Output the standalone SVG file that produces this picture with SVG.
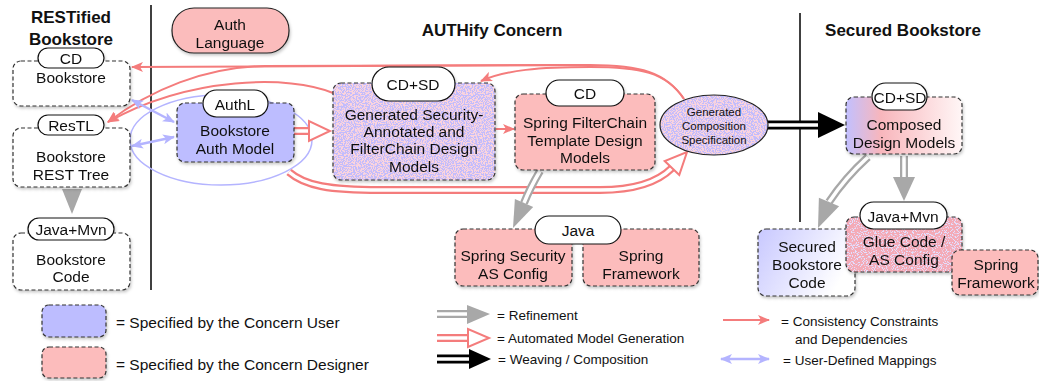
<svg xmlns="http://www.w3.org/2000/svg" width="1039" height="381" viewBox="0 0 1039 381">
<style>
.box{stroke:#333;stroke-width:1.2;stroke-dasharray:4 2.5}
.pill{fill:#fff;stroke:#111;stroke-width:1.2}
.t{font-family:"Liberation Sans",Arial,sans-serif;font-size:15.5px;fill:#111;text-anchor:middle;dominant-baseline:central}
.tt{font-weight:bold;font-size:17px}
.sm{font-size:11.5px}
.lg{text-anchor:start}
.lg13{text-anchor:start;font-size:13.5px}
.red{fill:none;stroke:#f47c7c;stroke-width:2}
.blue{fill:none;stroke:#b4b4ff;stroke-width:2.5}
.wh{fill:none;stroke:#fff}
.gray{fill:none;stroke:#a8a8a8;stroke-width:8}
.redd{fill:none;stroke:#f47c7c;stroke-width:8}
.blk{fill:none;stroke:#000;stroke-width:9}
.lav{fill:#bdbdff}
.pink{fill:#fcbcbc}
.nb{fill:#c2bcfc;filter:url(#nzP)}
.np{fill:#f4aab6;filter:url(#nzB)}
</style>
<defs>
<filter id="nzP" x="0" y="0" width="1" height="1">
<feTurbulence type="fractalNoise" baseFrequency="0.9" numOctaves="2" seed="4" result="n"/>
<feColorMatrix in="n" type="matrix" values="0 0 0 0 0.96  0 0 0 0 0.66  0 0 0 0 0.72  14 0 0 0 -6.6" result="p"/>
<feComposite in="p" in2="SourceGraphic" operator="atop"/>
</filter>
<filter id="nzB" x="0" y="0" width="1" height="1">
<feTurbulence type="fractalNoise" baseFrequency="0.9" numOctaves="2" seed="7" result="n"/>
<feColorMatrix in="n" type="matrix" values="0 0 0 0 0.76  0 0 0 0 0.74  0 0 0 0 0.99  14 0 0 0 -7.6" result="p"/>
<feComposite in="p" in2="SourceGraphic" operator="atop"/>
</filter>
<linearGradient id="gComp" x1="0" y1="0" x2="1" y2="0">
<stop offset="0" stop-color="#c2c0ff"/>
<stop offset="0.3" stop-color="#f8b6bc"/>
<stop offset="1" stop-color="#fff6f6"/>
</linearGradient>
<linearGradient id="gSec" x1="0" y1="0" x2="1" y2="0.4">
<stop offset="0" stop-color="#c8c8ff"/>
<stop offset="1" stop-color="#ffffff"/>
</linearGradient>
<filter id="sh" x="-10%" y="-10%" width="130%" height="140%">
<feDropShadow dx="1" dy="2" stdDeviation="1.5" flood-color="#000" flood-opacity="0.22"/>
</filter>
<marker id="ar" markerUnits="userSpaceOnUse" markerWidth="12" markerHeight="10" refX="11" refY="5" orient="auto" viewBox="0 0 12 10">
<path d="M0,0 L12,5 L0,10 L3,5 z" fill="#f47c7c"/>
</marker>
<marker id="ab" markerUnits="userSpaceOnUse" markerWidth="12" markerHeight="10" refX="11" refY="5" orient="auto-start-reverse" viewBox="0 0 12 10">
<path d="M0,0 L12,5 L0,10 L3,5 z" fill="#b4b4ff"/>
</marker>
</defs>

<g id="titles">
<text class="t tt" x="71" y="17">RESTified</text>
<text class="t tt" x="71" y="39">Bookstore</text>
<text class="t tt" x="492" y="30">AUTHify Concern</text>
<text class="t tt" x="903" y="30">Secured Bookstore</text>
<line x1="151" y1="5" x2="151" y2="290" stroke="#000" stroke-width="1.5"/>
<line x1="800" y1="13" x2="800" y2="222" stroke="#000" stroke-width="1.5"/>
</g>

<ellipse id="authl-scope" cx="221" cy="140" rx="91" ry="45" fill="none" stroke="#b4b4ff" stroke-width="1.5"/>

<g id="connectors">
<path class="red" d="M684,99 C666,72 640,65 590,65 L132,67" marker-end="url(#ar)"/>
<path class="red" d="M684,99 C666,72 640,67 590,67 C540,67 505,70 481,81" marker-end="url(#ar)"/>
<path class="red" d="M590,65 L265,66 C205,67 150,90 108,122" marker-end="url(#ar)"/>
<path class="red" d="M333,93 C290,75 190,76 108,122" marker-end="url(#ar)"/>
<path class="red" d="M496,129 L514,129" marker-end="url(#ar)"/>
<path class="blue" d="M132,100 L174,122" marker-start="url(#ab)" marker-end="url(#ab)"/>
<path class="blue" d="M132,146 L174,137" marker-start="url(#ab)" marker-end="url(#ab)"/>
<path class="redd" d="M294,131 L310,131"/><path class="wh" stroke-width="3.5" d="M294,131 L310,131"/>
<polygon points="309,121 309,141 330,131" fill="#fff" stroke="#f47c7c" stroke-width="2"/>
<path class="redd" d="M289,172 C305,186 330,190 380,190 L600,190 C640,190 660,180 672,168"/>
<path class="wh" stroke-width="3.5" d="M289,172 C305,186 330,190 380,190 L600,190 C640,190 660,180 672,168"/>
<polygon points="679.3,174.9 664.7,161.1 687,152" fill="#fff" stroke="#f47c7c" stroke-width="2"/>
<polygon points="62,189 82,189 72,214" fill="#a8a8a8"/>
<path class="gray" d="M540,171 Q530,188 524,203"/><path class="wh" stroke-width="3.5" d="M540,171 Q530,188 524,203"/>
<polygon points="533.2,207 514.9,199 513,228" fill="#a8a8a8"/>
<path class="gray" d="M904,156 L904,178"/><path class="wh" stroke-width="3.5" d="M904,156 L904,178"/>
<polygon points="893,177 915,177 904,201" fill="#a8a8a8"/>
<path class="gray" d="M868,157 Q845,178 829,202"/><path class="wh" stroke-width="3.5" d="M868,157 Q845,178 829,202"/>
<polygon points="839.1,206.3 818.9,197.7 818,228" fill="#a8a8a8"/>
<path class="blk" d="M768,125 L819,125"/><path class="wh" stroke-width="3.5" d="M768,125 L819,125"/>
<polygon points="818,112 818,138 845,125" fill="#000"/>
</g>

<g id="cd-bookstore" filter="url(#sh)">
<rect class="box" x="13" y="61" width="117" height="45" rx="8" fill="#fff"/>
<rect class="pill" x="38" y="48" width="66" height="20" rx="10"/>
<text class="t" x="71" y="58">CD</text>
<text class="t" x="71" y="77">Bookstore</text>
</g>
<g id="restl-tree" filter="url(#sh)">
<rect class="box" x="13" y="128" width="117" height="59" rx="8" fill="#fff"/>
<rect class="pill" x="38" y="115" width="66" height="20" rx="10"/>
<text class="t" x="71" y="125">ResTL</text>
<text class="t" x="71" y="156">Bookstore</text>
<text class="t" x="71" y="174">REST Tree</text>
</g>
<g id="bookstore-code" filter="url(#sh)">
<rect class="box" x="13" y="233" width="117" height="57" rx="8" fill="#fff"/>
<rect class="pill" x="28" y="218" width="86" height="22" rx="11"/>
<text class="t" x="71" y="229">Java+Mvn</text>
<text class="t" x="71" y="259">Bookstore</text>
<text class="t" x="71" y="276">Code</text>
</g>

<g id="auth-language" filter="url(#sh)">
<rect x="172" y="8" width="117" height="45" rx="22" fill="#fbbcbc" stroke="#222" stroke-width="1.2"/>
<text class="t" x="230" y="24">Auth</text>
<text class="t" x="230" y="42">Language</text>
</g>
<g id="authl-model" filter="url(#sh)">
<rect class="box lav" x="177" y="103" width="117" height="59" rx="8"/>
<rect class="pill" x="203" y="90" width="65" height="27" rx="13.5"/>
<text class="t" x="235" y="104">AuthL</text>
<text class="t" x="235" y="130">Bookstore</text>
<text class="t" x="235" y="148">Auth Model</text>
</g>
<g id="generated-security" filter="url(#sh)">
<rect class="nb" x="333" y="83" width="162" height="97" rx="8"/>
<rect class="box" x="333" y="83" width="162" height="97" rx="8" fill="none"/>
<rect class="pill" x="372" y="67" width="83" height="34" rx="17"/>
<text class="t" x="413" y="84">CD+SD</text>
<text class="t" x="414" y="114">Generated Security-</text>
<text class="t" x="414" y="131">Annotated and</text>
<text class="t" x="414" y="148">FilterChain Design</text>
<text class="t" x="414" y="166">Models</text>
</g>
<g id="spring-filterchain" filter="url(#sh)">
<rect class="box pink" x="515" y="94" width="140" height="76" rx="8"/>
<rect class="pill" x="546" y="80" width="78" height="26" rx="13"/>
<text class="t" x="585" y="93">CD</text>
<text class="t" x="585" y="122">Spring FilterChain</text>
<text class="t" x="585" y="140">Template Design</text>
<text class="t" x="585" y="157">Models</text>
</g>
<g id="composition-spec">
<ellipse class="nb" cx="714" cy="125" rx="54" ry="30"/>
<ellipse cx="714" cy="125" rx="54" ry="30" fill="none" stroke="#222" stroke-width="1.2"/>
<text class="t sm" x="714" y="112">Generated</text>
<text class="t sm" x="714" y="126">Composition</text>
<text class="t sm" x="714" y="140">Specification</text>
</g>
<g id="spring-security-config" filter="url(#sh)">
<rect class="box pink" x="455" y="229" width="117" height="57" rx="8"/>
<text class="t" x="513" y="255">Spring Security</text>
<text class="t" x="513" y="273">AS Config</text>
</g>
<g id="spring-framework-a" filter="url(#sh)">
<rect class="box pink" x="583" y="229" width="116" height="57" rx="8"/>
<text class="t" x="641" y="255">Spring</text>
<text class="t" x="641" y="273">Framework</text>
</g>
<g id="java-label">
<rect class="pill" x="535" y="216" width="86" height="28" rx="14"/>
<text class="t" x="578" y="230">Java</text>
</g>

<g id="composed-models" filter="url(#sh)">
<rect class="box" x="846" y="97" width="116" height="57" rx="8" fill="url(#gComp)"/>
<rect class="pill" x="872" y="83" width="55" height="27" rx="13.5"/>
<text class="t" x="900" y="97">CD+SD</text>
<text class="t" x="904" y="124">Composed</text>
<text class="t" x="904" y="142">Design Models</text>
</g>
<g id="secured-code" filter="url(#sh)">
<rect class="box" x="758" y="229" width="97" height="67" rx="8" fill="url(#gSec)"/>
<text class="t" x="807" y="246">Secured</text>
<text class="t" x="807" y="264">Bookstore</text>
<text class="t" x="807" y="282">Code</text>
</g>
<g id="glue-code" filter="url(#sh)">
<rect class="np" x="846" y="217" width="116" height="55" rx="8"/>
<rect class="box" x="846" y="217" width="116" height="55" rx="8" fill="none"/>
<rect class="pill" x="860" y="202" width="87" height="27" rx="13.5"/>
<text class="t" x="903" y="216">Java+Mvn</text>
<text class="t" x="904" y="241">Glue Code /</text>
<text class="t" x="904" y="259">AS Config</text>
</g>
<g id="spring-framework-b" filter="url(#sh)">
<rect class="box pink" x="952" y="250" width="86" height="45" rx="8"/>
<text class="t" x="996" y="264">Spring</text>
<text class="t" x="996" y="282">Framework</text>
</g>

<g id="legend">
<rect class="box lav" x="42" y="305" width="64" height="32" rx="7" filter="url(#sh)"/>
<text class="t lg" x="116" y="322">= Specified by the Concern User</text>
<rect class="box pink" x="42" y="347" width="64" height="31" rx="7" filter="url(#sh)"/>
<text class="t lg" x="116" y="364">= Specified by the Concern Designer</text>

<path class="gray" d="M437,314 L468,314"/><path class="wh" stroke-width="3.5" d="M437,314 L468,314"/>
<polygon points="467,305 467,324 490,314" fill="#a8a8a8"/>
<text class="t lg13" x="497" y="315">= Refinement</text>

<path class="redd" d="M437,338 L468,338"/><path class="wh" stroke-width="3.5" d="M437,338 L468,338"/>
<polygon points="468,329 468,347 489,338" fill="#fff" stroke="#f47c7c" stroke-width="2"/>
<text class="t lg13" x="497" y="338">= Automated Model Generation</text>

<path class="blk" d="M437,359 L470,359"/><path class="wh" stroke-width="3.5" d="M437,359 L470,359"/>
<polygon points="469,349 469,369 491,359" fill="#000"/>
<text class="t lg13" x="498" y="359">= Weaving / Composition</text>

<path class="red" d="M723,320 L769,320" marker-end="url(#ar)"/>
<text class="t lg13" x="781" y="321">= Consistency Constraints</text>
<text class="t lg13" x="795" y="339">and Dependencies</text>

<path class="blue" d="M721,359 L769,359" marker-start="url(#ab)" marker-end="url(#ab)"/>
<text class="t lg13" x="783" y="360">= User-Defined Mappings</text>
</g>
</svg>
